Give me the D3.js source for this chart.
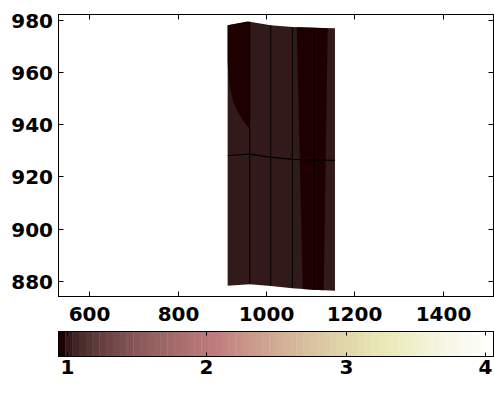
<!DOCTYPE html>
<html><head><meta charset="utf-8">
<script src="https://cdn.jsdelivr.net/npm/d3@7"></script>
<style>
body{margin:0;background:#fff}
text{font-family:"DejaVu Sans";font-weight:bold;font-size:20px;fill:#000}
</style>
</head><body>
<svg id="c" width="494" height="394"></svg>
<script>
// ---- data ----
const xTicks = [600, 800, 1000, 1200, 1400];
const yTicks = [880, 900, 920, 940, 960, 980];
const cTicks = [1, 2, 3, 4];
const xDomain = [530, 1515];
const yDomain = [874, 982];
const cDomain = [0.94, 4.06];
// mesh column positions and row edges (data units)
const meshX   = [913, 963, 1010.5, 1059.6, 1108.5, 1156];
const meshTop = [977.9, 979.2, 977.9, 977.2, 976.9, 976.7];
const meshMid = [928.0, 928.5, 927.4, 926.5, 926.3, 926.1];
const meshBot = [878.1, 878.7, 878.0, 877.2, 876.6, 876.2];
// field values
const baseValue = 1.01;
const lowValue = 0.96;
// low-value regions (data units)
const lowRegionA = [[913,977.9],[957.6,979.3],[963,979.2],[963,938.6],[958.4,938.9],[942.5,942.7],[926.6,948.0],[917.5,954.2],[914.1,960.7],[913,964.0]];
const lowRegionB = [[1069.4,977.14],[1108.5,976.9],[1139.6,976.77],[1130.6,876.4],[1108.5,876.6],[1083,876.9]];

// ---- colormap (MATLAB pink, 64) ----
const M = 64, n = Math.floor(3/8*M);
const pink = d3.range(M).map(i => {
  const g = i/(M-1);
  const hr = i < n ? (i+1)/n : 1;
  const hg = i < n ? 0 : (i < 2*n ? (i-n+1)/n : 1);
  const hb = i < 2*n ? 0 : (i-2*n+1)/(M-2*n);
  const f = h => Math.round(255*Math.sqrt((2*g+h)/3));
  return d3.rgb(f(hr), f(hg), f(hb)).formatHex();
});
const colorOf = v => {
  let k = Math.floor((v - cDomain[0])/(cDomain[1]-cDomain[0])*M);
  return pink[Math.max(0, Math.min(M-1, k))];
};

// ---- layout ----
const svg = d3.select("#c");
const L = 58.5, R = 493.5, T = 14.5, B = 296.5;
const x = d3.scaleLinear().domain(xDomain).range([L, R]);
const y = d3.scaleLinear().domain(yDomain).range([B, T]);

const g = svg.append("g");
const line = d3.line().x(d => x(d[0])).y(d => y(d[1]));

// patch base
const outline = meshX.map((v,i)=>[v, meshTop[i]]).concat(meshX.map((v,i)=>[v, meshBot[i]]).reverse());
g.append("path").attr("d", line(outline) + "Z").attr("fill", colorOf(baseValue));
[lowRegionA, lowRegionB].forEach(r =>
  g.append("path").attr("d", line(r) + "Z").attr("fill", colorOf(lowValue)));

// mesh lines
meshX.slice(1, -1).forEach((v, j) => {
  const i = j + 1;
  g.append("path").attr("d", line([[v, meshTop[i]], [v, meshMid[i]], [v, meshBot[i]]]))
    .attr("fill", "none").attr("stroke", "#000").attr("stroke-width", 1);
});
g.append("path").attr("d", line(meshX.map((v,i)=>[v, meshMid[i]])))
  .attr("fill", "none").attr("stroke", "#000").attr("stroke-width", 1.2);

// axes box
svg.append("rect").attr("x", L).attr("y", T).attr("width", R-L).attr("height", B-T)
  .attr("fill", "none").attr("stroke", "#000").attr("stroke-width", 1);
const tl = 5;
xTicks.forEach(t => {
  const px = Math.round(x(t)) + 0.5;
  svg.append("line").attr("x1", px).attr("x2", px).attr("y1", B).attr("y2", B-tl).attr("stroke", "#000");
  svg.append("line").attr("x1", px).attr("x2", px).attr("y1", T).attr("y2", T+tl).attr("stroke", "#000");
  svg.append("text").attr("x", px).attr("y", 320.5).attr("text-anchor", "middle").text(t);
});
yTicks.forEach(t => {
  const py = Math.round(y(t)) + 0.5;
  svg.append("line").attr("x1", L).attr("x2", L+tl).attr("y1", py).attr("y2", py).attr("stroke", "#000");
  svg.append("line").attr("x1", R).attr("x2", R-tl).attr("y1", py).attr("y2", py).attr("stroke", "#000");
  svg.append("text").attr("x", 53).attr("y", py + 7.3).attr("text-anchor", "end").text(t);
});

// ---- colorbar ----
const cT = 331.5, cB = 356.5;
const c = d3.scaleLinear().domain(cDomain).range([L, R]);
const step = (cDomain[1]-cDomain[0])/M;
svg.append("g").selectAll("rect").data(pink).join("rect")
  .attr("x", (d,i) => c(cDomain[0] + i*step))
  .attr("width", (d,i) => c(cDomain[0] + (i+1)*step) - c(cDomain[0] + i*step) + 0.4)
  .attr("y", cT).attr("height", cB - cT)
  .attr("fill", d => d);
svg.append("rect").attr("x", L).attr("y", cT).attr("width", R-L).attr("height", cB-cT)
  .attr("fill", "none").attr("stroke", "#000");
cTicks.forEach(t => {
  const px = Math.round(c(t)) + 0.5;
  svg.append("line").attr("x1", px).attr("x2", px).attr("y1", cT).attr("y2", cT+4).attr("stroke", "#000");
  svg.append("line").attr("x1", px).attr("x2", px).attr("y1", cB).attr("y2", cB-4).attr("stroke", "#000");
  svg.append("text").attr("x", px).attr("y", 374).attr("text-anchor", "middle").text(t);
});
</script>
</body></html>
